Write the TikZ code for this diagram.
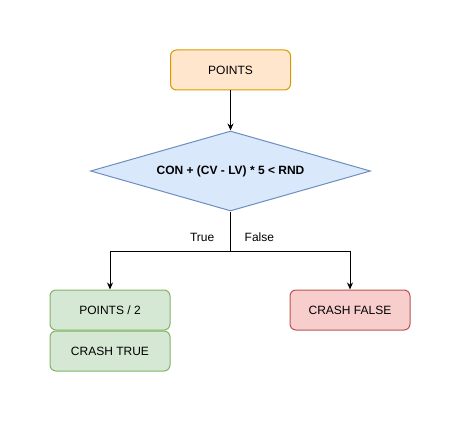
\documentclass[tikz,border=0pt]{standalone}
\usepackage{fontspec}
\setmainfont{Liberation Sans}
\usepackage{tikz}
\usetikzlibrary{arrows.meta,positioning,shapes.geometric}
\definecolor{orangefill}{HTML}{FFE6CC}
\definecolor{orangeline}{HTML}{D79B00}
\definecolor{bluefill}{HTML}{DAE8FC}
\definecolor{blueline}{HTML}{6C8EBF}
\definecolor{greenfill}{HTML}{D5E8D4}
\definecolor{greenline}{HTML}{82B366}
\definecolor{redfill}{HTML}{F8CECC}
\definecolor{redline}{HTML}{B85450}

\begin{document}
\begin{tikzpicture}[
  x=1pt, y=-1pt,
  font=\fontsize{12}{14}\selectfont,
  box/.style={rounded corners=6pt, line width=1pt,
              minimum width=120pt, minimum height=40pt, inner sep=0pt},
  cond/.style={diamond, aspect=3.5, draw=blueline, fill=bluefill, line width=1pt,
               minimum width=280pt, minimum height=80pt, inner sep=0pt,
               font=\fontsize{12}{14}\selectfont\bfseries},
  arr/.style={-{Stealth[length=7pt,width=6pt]}, line width=1pt, color=black},
  lbl/.style={font=\fontsize{12}{14}\selectfont, inner sep=1pt}
]
  \useasboundingbox (0,0) rectangle (462,422);
  \node[box, draw=orangeline, fill=orangefill] (points) at (230.5,70) {POINTS};
  \node[cond, below=40pt of points] (check) {CON + (CV - LV) * 5 < RND};
  \coordinate[below=40pt of check.south] (split);
  \node[box, draw=greenline, fill=greenfill] (half) at (110,310) {POINTS / 2};
  \node[box, draw=greenline, fill=greenfill, below=0pt of half] (crashtrue) {CRASH TRUE};
  \node[box, draw=redline, fill=redfill] (crashfalse) at (350,310) {CRASH FALSE};
  \node[lbl, above left=9pt and 15pt of split] (truelbl) {True};
  \node[lbl, above right=9pt and 13pt of split] (falselbl) {False};
  \draw[arr] (points) -- (check);
  \draw[arr] (check.south) -- (split) -| (half.north);
  \draw[arr] (split) -| (crashfalse.north);
\end{tikzpicture}
\end{document}
